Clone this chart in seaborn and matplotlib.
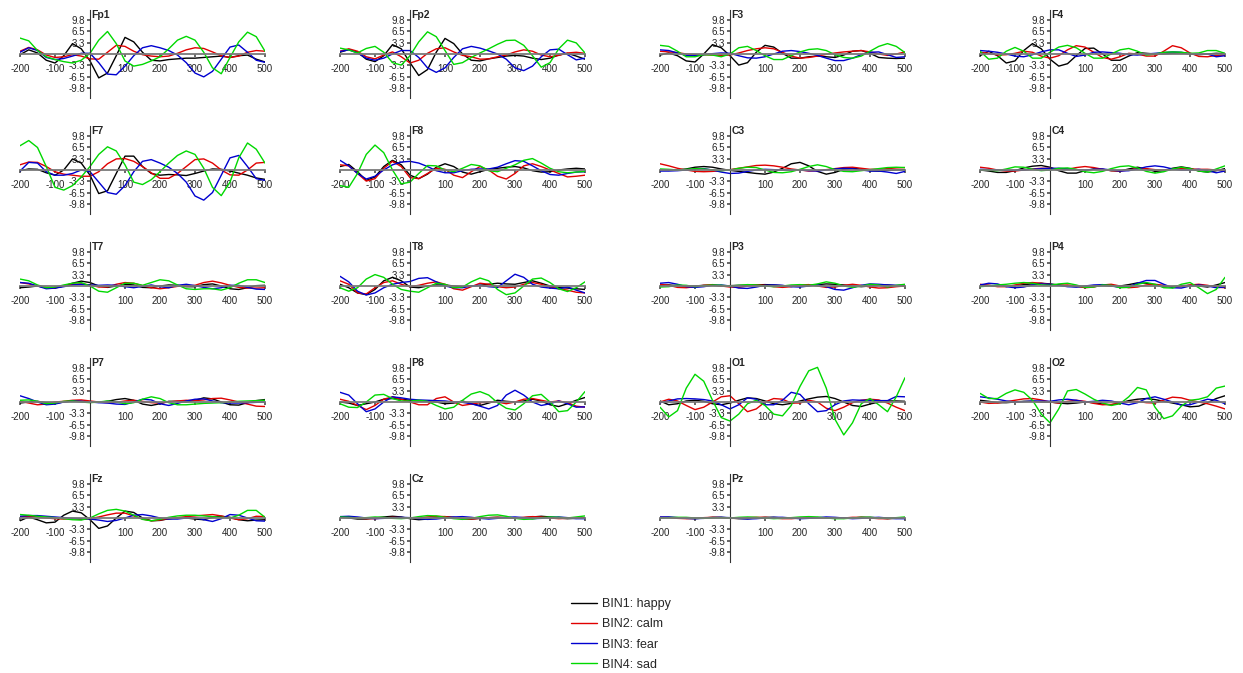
import numpy as np
import pandas as pd
import matplotlib
matplotlib.use("Agg")
import matplotlib.pyplot as plt
import seaborn as sns
from matplotlib.lines import Line2D

# time axis (ms) and bins
times = list(range(-200, 501, 25))
bins = ["BIN1: happy", "BIN2: calm", "BIN3: fear", "BIN4: sad"]
colors = ["#000000", "#e00000", "#0000d0", "#00d800"]
xticks = [-200, -100, 100, 200, 300, 400, 500]
yticks = [9.8, 6.5, 3.3, -3.3, -6.5, -9.8]

# amplitudes (uV) per channel: [happy, calm, fear, sad]
fp1 = [[-0.2, 1.2, 0.3, -1.8, -2.6, -0.5, 3.0, 1.5, -2.0, -6.9, -5.5, -0.5, 4.8, 3.5, 0.5, -1.8, -2.0, -1.6, -1.4, -1.2, -1.2, -1.0, -0.8, -0.6, -1.0, -0.5, -0.3, -1.5, -2.3],
       [0.8, 1.9, 1.2, -0.3, -1.0, -0.8, -0.2, -0.6, -1.4, -1.5, 0.5, 2.5, 2.2, 0.8, -0.2, -0.6, -0.8, -0.6, 0.2, 1.2, 1.8, 1.6, 0.6, -0.5, -1.0, -0.6, 0.5, 1.0, 0.8],
       [0.5, 1.8, 1.0, -1.0, -1.6, -1.3, -0.6, 0.2, 0.2, -2.5, -5.8, -6.0, -3.5, -0.5, 1.8, 2.4, 1.8, 1.0, -0.3, -2.5, -5.5, -6.6, -5.0, -1.5, 2.0, 2.6, 0.5, -1.8, -2.4],
       [4.6, 3.8, 1.0, -0.8, -1.6, -2.2, -2.6, -1.8, 0.2, 4.0, 6.5, 3.0, -2.0, -3.5, -3.0, -2.0, -0.8, 1.5, 4.0, 5.1, 4.0, 0.5, -4.0, -5.7, -1.0, 3.5, 6.3, 5.0, 0.8]]
fp2 = [[0.5, 1.3, 0.5, -1.5, -2.2, -0.5, 2.7, 1.5, -2.5, -6.2, -4.5, 0.5, 4.5, 3.0, 0.0, -1.8, -2.0, -1.4, -1.0, -0.6, -0.4, -0.6, -1.2, -1.6, -1.2, -0.3, 0.2, -0.6, -1.5],
       [0.8, 1.5, 0.8, -0.8, -1.4, -0.3, 0.6, -0.8, -2.6, -1.8, 0.2, 1.5, 1.8, 0.6, -0.4, -0.8, -1.5, -1.4, -0.8, -0.3, 0.6, 1.2, 0.8, -0.3, -0.8, -0.4, 0.3, 0.5, 0.2],
       [0.7, 1.2, 0.3, -1.2, -1.8, -1.2, 0.0, 1.0, 1.0, -1.0, -4.0, -5.3, -4.0, -1.0, 1.5, 2.2, 1.7, 0.9, 0.0, -1.5, -4.0, -4.8, -3.5, -0.8, 1.2, 1.4, -0.2, -1.7, -1.2],
       [1.7, 1.2, 0.3, 1.6, 2.2, 0.5, -2.5, -3.2, -0.5, 3.5, 6.4, 5.0, 1.0, -3.0, -2.5, -1.0, 0.3, 1.5, 2.8, 3.9, 4.0, 2.5, -0.5, -3.8, -2.5, 1.5, 4.0, 3.2, 0.3]]
f3 = [[-0.3, 0.3, -0.5, -2.0, -2.3, 0.0, 2.7, 1.8, -0.5, -3.2, -2.5, 0.5, 2.5, 2.0, 0.2, -1.2, -1.2, -0.8, -0.6, -0.8, -1.0, -0.3, 0.8, 1.0, 0.2, -1.0, -1.2, -1.3, -1.2],
      [0.8, 0.6, 0.4, 0.0, -0.2, -0.2, -0.3, -0.4, -0.3, 0.3, 1.0, 1.5, 1.8, 1.5, 0.5, -0.6, -1.2, -1.0, -0.6, -0.1, 0.3, 0.6, 0.8, 1.0, 0.6, 0.0, -0.4, 0.0, 0.6],
      [1.2, 1.0, 0.3, -0.4, -0.5, -0.2, 0.1, 0.3, 0.2, -0.5, -1.1, -1.2, -0.8, 0.0, 0.8, 1.0, 0.7, 0.2, -0.4, -1.2, -1.9, -1.9, -1.2, -0.2, 0.5, 0.6, -0.2, -1.0, -0.8],
      [2.5, 2.2, 0.8, -0.8, -0.8, -0.2, -0.3, -0.8, 0.0, 1.8, 2.2, 1.0, -0.5, -1.6, -1.6, -0.5, 0.6, 1.3, 1.5, 1.0, -0.2, -1.0, -1.2, -0.6, 0.8, 2.2, 3.0, 2.2, 0.4]]
f4 = [[-0.5, 0.8, -0.5, -2.6, -2.0, 1.0, 3.0, 1.5, -1.5, -3.5, -2.8, -0.5, 1.6, 1.7, 0.0, -1.8, -1.8, -0.6, 0.4, 0.2, 0.0, 0.0, 0.2, 0.3, 0.0, -0.2, 0.0, 0.2, 0.1],
      [0.5, 0.2, -0.3, -0.2, 0.2, 0.8, 0.5, -0.6, -1.2, -0.5, 1.2, 2.4, 2.0, 0.5, -1.0, -1.5, -0.8, 0.2, 0.0, -0.6, -0.6, 0.8, 2.4, 1.8, 0.3, -0.7, -0.8, -0.4, -0.3],
      [1.0, 0.8, 0.5, 0.0, -0.6, -0.8, -0.2, 0.6, 1.2, 1.2, 0.2, -0.7, -0.3, 0.5, 0.6, 0.4, 0.2, -0.2, -0.3, 0.0, 0.2, 0.4, 0.6, 0.5, 0.1, -0.1, 0.0, -0.8, -0.5],
      [0.8, -1.5, -1.2, 0.8, 1.9, 0.8, -1.2, -1.2, 0.5, 2.0, 2.5, 1.8, 0.2, -1.2, -1.2, 0.0, 1.2, 1.6, 0.8, -0.3, 0.0, 0.5, 0.6, 0.5, 0.2, 0.3, 1.0, 1.0, 0.2]]
f7 = [[-0.2, 0.3, 0.2, -0.8, -1.5, 0.0, 3.2, 2.0, -1.5, -6.8, -6.0, -1.0, 4.0, 4.0, 1.0, -1.0, -1.5, -1.3, -1.4, -1.6, -1.0, -0.3, 0.3, 0.2, -0.3, -0.9, -1.5, -2.3, -2.7],
      [1.5, 2.3, 2.2, 1.0, -0.5, -1.2, -1.5, -1.8, -1.8, -0.5, 1.8, 3.2, 3.3, 2.5, 1.0, -0.8, -2.4, -2.4, -1.0, 1.0, 3.0, 3.2, 2.0, 0.0, -1.4, -1.5, 0.0, 2.0, 2.2],
      [-0.3, 2.2, 2.0, -0.5, -1.5, -1.5, -1.0, 0.0, -0.5, -3.5, -6.5, -7.0, -4.5, -0.5, 2.5, 3.0, 2.0, 0.8, -1.0, -3.5, -7.5, -8.7, -6.5, -1.5, 3.5, 4.2, 1.0, -2.5, -3.0],
      [7.0, 8.5, 6.5, 1.0, -5.0, -5.8, -4.5, -2.0, 1.0, 4.5, 6.7, 5.5, 1.5, -3.5, -4.2, -2.8, -0.5, 2.0, 4.2, 5.5, 4.5, 0.5, -5.0, -7.4, -3.5, 3.5, 7.8, 6.0, 2.0]]
f8 = [[1.0, 1.6, -0.5, -3.0, -2.0, 1.0, 2.8, 1.5, -1.5, -2.5, -1.2, 0.8, 1.8, 1.0, -0.6, -1.2, -0.5, 0.2, 0.5, 0.8, 1.0, 0.6, -0.2, -0.6, -0.5, 0.0, 0.3, 0.5, 0.3],
      [1.5, 1.2, -1.0, -3.2, -2.5, 0.5, 2.5, 1.0, -2.2, -2.5, -1.0, 0.5, 0.2, -1.5, -2.2, -0.5, 1.0, 0.0, -1.8, -2.6, -1.0, 1.2, 1.8, 1.0, 0.0, -1.0, -2.0, -1.8, -1.5],
      [2.8, 1.2, -1.0, -2.6, -1.8, 0.0, 1.5, 2.3, 2.5, 2.0, 1.0, -0.2, -0.8, -0.8, -0.2, 0.2, 0.3, 0.3, 0.8, 1.8, 2.7, 2.5, 1.2, -0.2, -1.3, -1.5, -1.0, -0.6, -0.5],
      [-4.5, -5.0, -1.0, 4.5, 7.2, 5.0, 0.0, -4.0, -3.5, -1.0, 1.3, 1.2, 0.0, -0.5, 0.5, 1.6, 1.2, -0.2, -0.5, 0.5, 1.5, 2.8, 3.3, 2.0, 0.5, -0.5, -0.8, -0.6, -0.4]]
c3 = [[0.0, -0.1, 0.0, 0.3, 0.8, 1.0, 0.8, 0.3, -0.1, -0.4, -0.7, -1.0, -1.2, -0.6, 0.5, 1.8, 2.2, 1.2, -0.4, -1.2, -0.7, 0.2, 0.5, 0.2, -0.2, -0.3, -0.1, 0.0, 0.1],
      [1.8, 1.2, 0.5, 0.0, -0.4, -0.5, -0.4, -0.2, 0.1, 0.5, 0.9, 1.3, 1.4, 1.2, 0.8, 0.3, 0.0, -0.3, -0.2, 0.1, 0.4, 0.7, 0.8, 0.5, 0.2, 0.2, 0.4, 0.6, 0.7],
      [-0.3, -0.3, -0.2, 0.0, 0.2, 0.4, 0.0, -0.6, -1.0, -0.9, -0.4, 0.0, 0.2, 0.1, 0.0, 0.0, 0.0, -0.2, -0.3, 0.0, 0.3, 0.5, 0.4, 0.0, -0.3, -0.3, -0.6, -1.0, -0.4],
      [0.3, 0.2, 0.0, 0.2, 0.4, 0.3, 0.0, -0.2, 0.0, 0.5, 0.8, 0.7, 0.0, -0.7, -0.8, -0.5, 0.2, 1.0, 1.5, 1.0, 0.1, -0.4, -0.5, -0.2, 0.1, 0.4, 0.7, 0.8, 0.7]]
c4 = [[0.0, -0.3, -0.7, -0.7, -0.2, 0.6, 1.1, 1.3, 0.8, -0.2, -0.9, -0.9, -0.2, 0.3, 0.2, -0.2, -0.3, 0.3, 0.8, 0.3, -0.4, -0.2, 0.5, 0.9, 0.5, -0.3, -0.6, -0.2, 0.4],
      [0.8, 0.5, 0.0, -0.3, -0.3, 0.0, 0.3, 0.5, 0.5, 0.3, 0.2, 0.7, 1.0, 0.7, 0.2, -0.2, -0.3, 0.0, 0.4, 0.4, 0.1, 0.0, 0.2, 0.4, 0.3, 0.2, 0.2, 0.0, -0.3],
      [0.2, 0.1, 0.0, -0.1, -0.1, 0.0, 0.2, 0.4, 0.5, 0.5, 0.3, 0.1, 0.0, 0.2, 0.3, 0.0, -0.3, -0.2, 0.3, 0.9, 1.2, 0.9, 0.3, 0.0, 0.0, 0.2, -0.2, -0.8, -0.3],
      [0.0, -0.1, -0.2, 0.3, 0.9, 0.8, 0.2, -0.2, 0.0, 0.5, 0.6, 0.2, -0.5, -0.8, -0.4, 0.4, 1.0, 1.2, 0.6, -0.4, -0.9, -0.5, 0.3, 0.8, 0.4, -0.3, -0.6, 0.3, 1.2]]
t7 = [[-0.5, -0.3, 0.0, -0.5, -0.6, 0.0, 0.8, 1.4, 1.0, 0.0, -0.4, 0.0, 0.5, 0.3, -0.4, -0.5, 0.0, 0.3, 0.2, -0.2, -0.2, 0.4, 0.6, 0.0, -0.8, -1.0, -0.5, 0.1, 0.2],
      [1.0, 0.6, 0.0, -0.4, -0.5, 0.0, 0.5, 0.6, 0.3, -0.3, -0.3, 0.5, 1.0, 0.8, 0.1, -0.5, -0.8, -0.5, -0.1, 0.0, 0.2, 1.0, 1.4, 0.9, 0.2, -0.4, -0.6, -0.6, -0.5],
      [1.0, 0.8, 0.0, -0.8, -0.6, -0.2, 0.3, 0.5, 0.3, 0.2, 0.3, 0.2, -0.2, -0.5, -0.1, 0.3, -0.2, -0.5, 0.2, 0.5, 0.1, -0.4, -0.8, -0.5, 0.2, 0.2, -0.4, -0.9, -1.0],
      [2.0, 1.5, 0.3, -0.5, -0.3, 0.3, 0.8, 1.0, 0.0, -1.5, -1.8, -0.5, 0.8, 0.8, 0.2, 1.0, 1.8, 1.5, 0.3, -0.8, -1.0, -0.8, -0.8, -1.2, -0.5, 0.8, 1.8, 1.8, 1.0]]
t8 = [[0.5, -0.5, -2.0, -2.5, -1.0, 1.5, 2.5, 1.5, -0.3, -0.5, 0.0, 0.3, 0.3, 0.0, -0.2, 0.0, 0.2, 0.5, 0.8, 0.6, 0.5, 1.0, 1.5, 0.8, 0.0, -0.4, -0.6, -0.8, -1.0],
      [1.5, 0.5, -2.0, -2.3, -0.5, 1.0, 1.5, 0.5, -0.2, 0.2, 0.8, 1.2, 0.5, -0.8, -1.2, -0.2, 0.8, 0.5, -0.2, -0.5, -0.3, 0.5, 1.0, 0.5, -0.3, -0.8, -1.2, -1.8, -2.0],
      [2.8, 1.2, -1.5, -2.6, -2.0, -0.5, 0.5, 1.0, 1.3, 2.2, 2.4, 1.2, 0.0, -0.5, -0.5, 0.0, 0.2, -0.2, -0.4, 1.5, 3.4, 2.5, 0.5, -0.3, -0.6, -0.8, -0.3, -1.2, -2.0],
      [-0.5, -1.5, -0.5, 2.0, 3.3, 2.5, 0.5, -1.0, -1.5, -1.8, -0.5, 0.8, 0.5, -0.5, -0.3, 1.2, 2.3, 1.5, -1.0, -2.5, -2.0, 0.0, 2.0, 2.3, 1.0, -0.8, -1.6, -0.5, 1.2]]
p3 = [[0.2, 0.3, 0.1, -0.1, 0.0, 0.2, 0.2, 0.0, 0.1, 0.2, 0.2, 0.3, 0.4, 0.3, 0.1, 0.0, -0.1, 0.1, 0.4, 0.6, 0.5, 0.3, 0.0, -0.2, 0.0, 0.2, 0.3, 0.1, 0.0],
      [0.5, 0.2, -0.4, -0.5, -0.2, 0.2, 0.4, 0.0, -0.3, -0.4, 0.0, 0.3, 0.2, -0.2, -0.4, -0.2, 0.3, 0.4, 0.0, -0.4, -0.3, 0.2, 0.5, 0.2, -0.3, -0.6, -0.5, -0.2, 0.0],
      [0.8, 1.0, 0.5, -0.2, -0.4, -0.2, 0.2, 0.3, 0.0, -0.6, -0.7, -0.3, 0.2, 0.3, 0.2, -0.2, -0.3, 0.0, 0.4, -0.2, -1.0, -1.2, -0.5, 0.2, 0.6, 0.5, 0.3, 0.2, 0.3],
      [-0.3, -0.2, 0.3, 0.2, -0.2, 0.1, 0.3, 0.2, 0.0, 0.2, 0.4, 0.3, 0.0, -0.2, 0.0, 0.3, 0.4, 0.2, 0.6, 1.2, 0.8, 0.0, -0.4, 0.0, 0.5, 0.3, -0.3, 0.2, 0.5]]
p4 = [[0.2, 0.2, 0.0, -0.1, 0.1, 0.4, 0.6, 0.8, 0.6, 0.3, 0.0, -0.2, -0.2, 0.0, 0.1, 0.0, 0.0, 0.4, 0.9, 0.8, 0.3, -0.2, -0.2, 0.1, 0.2, 0.0, -0.3, 0.3, 1.0],
      [0.5, 0.2, -0.2, -0.2, 0.3, 0.8, 1.0, 0.8, 0.4, 0.2, 0.3, 0.0, -0.5, -0.3, 0.3, 0.5, 0.0, -0.5, -0.3, 0.3, 0.5, 0.2, -0.3, -0.2, 0.3, 0.5, 0.2, -0.3, -0.5],
      [0.3, 0.8, 0.6, -0.2, -0.5, -0.3, 0.3, 0.6, 0.5, 0.2, -0.2, -0.3, 0.0, 0.3, 0.4, 0.0, -0.4, -0.2, 0.8, 1.6, 1.6, 0.5, -0.5, -0.6, 0.0, 0.3, 0.0, -0.5, -0.3],
      [-0.2, 0.0, 0.3, 0.5, 0.8, 1.0, 0.8, 0.3, 0.2, 0.6, 0.8, 0.3, -0.4, -0.3, 0.3, 0.2, -0.5, -0.4, 0.5, 1.0, 0.5, -0.5, -0.6, 0.5, 1.0, -0.5, -2.2, -1.0, 2.5]]
p7 = [[-0.3, 0.0, 0.2, -0.2, -0.4, 0.0, 0.3, 0.2, 0.0, -0.1, 0.2, 0.7, 1.0, 0.5, -0.6, -1.0, -0.5, 0.2, 0.2, 0.0, 0.5, 1.2, 0.9, 0.0, -0.8, -0.9, -0.2, 0.4, 0.7],
      [0.2, -0.3, -0.8, -0.6, 0.0, 0.2, 0.5, 0.6, 0.3, 0.0, -0.2, -0.1, 0.3, 0.5, 0.2, -0.2, -0.3, 0.0, 0.3, 0.5, 0.4, 0.6, 1.0, 1.1, 0.6, 0.0, -0.6, -1.2, -1.3],
      [1.8, 1.0, 0.0, -0.8, -0.6, 0.0, 0.3, 0.2, 0.0, -0.2, -0.3, -0.6, -0.7, 0.0, 0.8, 0.6, -0.5, -1.0, -0.4, 0.3, 0.8, 0.9, 0.3, -0.2, -0.3, -0.3, -0.2, -0.1, 0.0],
      [0.5, 0.6, 0.2, -0.5, -0.3, 0.2, 0.3, 0.0, -0.2, 0.0, 0.3, 0.0, -0.5, -0.2, 0.8, 1.5, 1.0, -0.2, -0.8, -0.8, -0.6, -0.4, -0.3, -0.2, 0.0, 0.2, 0.3, 0.4, 0.5]]
p8 = [[0.0, -0.3, -1.0, -0.5, 0.0, 0.8, 1.0, 0.8, 0.5, 0.3, 0.3, 0.0, -0.5, -0.3, 0.3, -0.5, -1.0, -0.3, 0.5, 0.2, 0.0, 0.3, 0.8, 0.3, -0.8, -1.3, -0.5, 0.5, 1.3],
      [0.8, 0.2, -1.0, -2.2, -1.0, 0.8, 1.5, 0.8, 0.0, -0.8, -0.8, 1.0, 1.5, 0.0, -1.0, -0.6, -0.2, 0.0, 0.0, -0.5, 0.0, 0.8, 1.0, 0.5, 0.0, 0.3, -0.2, -1.2, -1.5],
      [2.8, 2.0, -0.5, -2.8, -2.0, 0.0, 1.5, 1.2, 0.8, 0.6, 0.5, 0.4, 0.3, 0.0, -0.1, -0.5, -1.2, -2.0, -1.0, 2.0, 3.4, 2.0, 0.0, -1.0, -0.5, 0.3, -0.5, -1.5, -1.4],
      [-0.5, -1.5, -1.6, 0.0, 2.0, 2.2, 1.0, 0.3, 0.3, 0.5, 0.2, -1.0, -2.0, -1.5, 0.5, 2.3, 3.0, 2.0, -0.2, -1.8, -2.3, -0.5, 1.8, 2.2, 0.0, -2.8, -2.5, 0.0, 3.0]]
o1 = [[0.3, -0.8, -0.5, 0.3, 0.5, 0.2, -0.5, -0.8, -0.3, 0.5, 1.2, 1.0, 0.3, -0.5, -0.8, -0.4, 0.3, 0.9, 1.4, 1.6, 1.0, 0.0, -1.0, -1.3, -0.6, 0.0, 0.3, 0.3, 0.2],
      [0.0, 0.8, 0.3, -1.0, -2.2, -1.5, 0.0, 1.5, 1.8, -0.5, -2.8, -2.0, 0.0, 1.0, 0.8, -0.3, -0.3, 0.5, 0.0, -1.8, -2.5, -1.5, -0.2, 0.5, 0.8, 0.6, -0.3, -1.5, -2.5],
      [-0.2, 0.3, 0.9, 1.0, 0.9, 0.7, 0.3, -0.8, -2.0, -0.8, 1.2, 0.8, -0.8, -0.8, 0.5, 2.8, 2.2, -0.5, -2.8, -2.5, -0.8, 0.3, 0.6, 0.5, 0.5, 0.4, 0.4, 1.6, 1.5],
      [-1.5, -4.3, -2.5, 4.0, 8.0, 6.0, 0.5, -4.5, -5.5, -3.5, -0.5, 0.5, -1.0, -3.5, -4.0, -1.0, 4.5, 9.0, 10.0, 4.0, -5.0, -9.5, -6.0, -0.5, 1.0, -0.8, -2.8, 1.5, 7.0]]
o2 = [[0.5, 0.2, -0.2, -0.2, 0.0, 0.2, 0.2, 0.0, 0.0, -0.3, -0.5, -0.3, 0.0, -0.2, -0.6, -0.8, -0.3, 0.4, 0.8, 1.0, 0.7, 0.2, -0.3, -0.8, -1.4, -1.2, -0.2, 1.0, 1.8],
      [0.0, -0.4, -0.3, 0.1, 0.5, 0.9, 1.0, 0.6, 0.0, -0.3, 0.2, 0.5, 0.2, -0.4, -0.8, -0.7, -0.4, 0.0, 0.2, -0.2, -0.3, 0.6, 1.4, 1.2, 0.5, 0.0, -0.5, -1.2, -2.0],
      [1.5, 1.2, 0.8, 0.3, 0.0, 0.1, 0.3, 0.3, 0.2, 0.6, 0.8, 0.5, 0.0, 0.2, 0.5, 0.3, -0.3, -0.8, -0.2, 1.0, 1.5, 0.8, 0.0, -0.9, -0.8, 0.0, 0.8, 0.5, -0.5],
      [2.5, 1.0, 1.0, 2.5, 3.5, 2.8, 0.5, -3.5, -6.0, -2.0, 3.2, 3.6, 2.3, 0.8, -0.3, -1.0, -0.5, 1.5, 4.2, 3.5, -1.5, -4.8, -4.0, -1.2, 0.5, 0.8, 1.5, 4.0, 4.6]]
fz = [[-0.8, 0.3, -0.5, -1.4, -1.2, 0.8, 2.0, 1.5, -0.5, -3.0, -2.3, 0.0, 2.0, 1.6, 0.0, -0.8, -0.7, -0.2, 0.0, 0.0, -0.3, -0.5, 0.2, 0.5, 0.2, -0.5, -0.8, -0.6, -0.5],
      [0.3, 0.5, 0.3, 0.0, -0.2, -0.3, -0.2, -0.4, -0.2, 0.3, 0.9, 1.4, 1.4, 0.6, -0.3, -0.8, -0.6, -0.2, 0.1, 0.4, 0.6, 0.8, 1.0, 0.6, 0.0, -0.5, -0.2, 0.5, 0.4],
      [0.5, 0.7, 0.7, 0.5, 0.3, 0.1, -0.1, -0.2, -0.3, -0.6, -1.0, -0.7, 0.0, 0.8, 1.0, 0.6, 0.0, -0.3, -0.3, 0.0, 0.1, -0.5, -1.0, -0.2, 1.0, 0.8, 0.0, -0.8, -0.9],
      [1.0, 0.8, 0.5, 0.3, 0.1, -0.2, -0.5, -0.6, 0.0, 1.2, 2.2, 2.5, 2.0, 0.8, -0.4, -0.8, -0.4, 0.2, 0.6, 0.8, 0.8, 0.6, 0.4, 0.2, 0.0, 0.8, 2.2, 2.2, 0.2]]
cz = [[0.2, 0.0, -0.3, -0.3, 0.0, 0.3, 0.5, 0.3, -0.2, -0.5, -0.3, 0.2, 0.4, 0.2, -0.2, -0.3, -0.1, 0.1, 0.2, 0.1, 0.0, 0.1, 0.3, 0.5, 0.3, 0.0, -0.2, -0.1, 0.1],
      [0.3, 0.2, 0.0, -0.2, -0.2, 0.0, 0.2, 0.1, -0.1, 0.0, 0.3, 0.5, 0.4, 0.1, -0.2, -0.3, -0.1, 0.1, 0.2, 0.1, 0.0, 0.2, 0.4, 0.3, 0.0, -0.2, -0.1, 0.1, 0.0],
      [0.4, 0.5, 0.3, 0.0, -0.2, -0.1, 0.1, 0.2, 0.1, -0.2, -0.4, -0.3, 0.0, 0.3, 0.4, 0.2, -0.1, -0.3, -0.1, 0.2, 0.3, 0.1, -0.2, -0.1, 0.2, 0.3, 0.1, -0.2, -0.2],
      [0.3, 0.2, 0.0, 0.1, 0.3, 0.2, -0.1, -0.2, 0.0, 0.4, 0.7, 0.6, 0.2, -0.2, -0.4, -0.1, 0.4, 0.8, 0.9, 0.5, -0.1, -0.4, -0.3, 0.1, 0.3, 0.2, 0.0, 0.3, 0.6]]
pz = [[0.1, 0.2, 0.1, -0.1, -0.2, 0.0, 0.2, 0.2, 0.0, -0.2, -0.2, 0.0, 0.2, 0.2, 0.0, -0.1, -0.1, 0.0, 0.1, 0.1, 0.0, -0.1, 0.0, 0.2, 0.2, 0.0, -0.2, -0.1, 0.1],
      [0.2, 0.1, -0.1, -0.2, -0.1, 0.1, 0.2, 0.1, -0.1, -0.1, 0.1, 0.2, 0.2, 0.0, -0.2, -0.2, 0.0, 0.1, 0.1, 0.0, -0.1, 0.0, 0.2, 0.2, 0.0, -0.2, -0.2, 0.0, 0.1],
      [0.3, 0.3, 0.1, -0.1, -0.2, -0.1, 0.1, 0.2, 0.1, -0.1, -0.3, -0.2, 0.0, 0.2, 0.2, 0.0, -0.2, -0.1, 0.1, 0.3, 0.2, 0.0, -0.2, -0.1, 0.1, 0.2, 0.0, -0.2, -0.2],
      [0.0, 0.1, 0.2, 0.2, 0.0, -0.1, 0.0, 0.1, 0.0, 0.2, 0.3, 0.2, 0.0, -0.2, -0.1, 0.1, 0.3, 0.4, 0.3, 0.0, -0.2, -0.2, 0.0, 0.2, 0.2, 0.0, -0.1, 0.1, 0.3]]

channels = [("Fp1", fp1), ("Fp2", fp2), ("F3", f3), ("F4", f4),
            ("F7", f7), ("F8", f8), ("C3", c3), ("C4", c4),
            ("T7", t7), ("T8", t8), ("P3", p3), ("P4", p4),
            ("P7", p7), ("P8", p8), ("O1", o1), ("O2", o2),
            ("Fz", fz), ("Cz", cz), ("Pz", pz)]

sns.set_theme(style="white")
plt.rcParams["font.family"] = ["Liberation Sans", "DejaVu Sans"]
plt.rcParams["axes.unicode_minus"] = False

W, H = 1243, 673
fig = plt.figure(figsize=(W / 100, H / 100), dpi=100)
palette = dict(zip(bins, colors))

for i, (name, waves) in enumerate(channels):
    row, col = divmod(i, 4)
    x0 = 20 + 320 * col      # pixel of -200 ms
    y0 = 54 + 116 * row      # pixel of 0 uV
    ax = fig.add_axes([x0 / W, 1 - (y0 + 44) / H, 245 / W, 88 / H])
    df = pd.DataFrame({"time": times * 4,
                       "amp": sum(waves, []),
                       "bin": np.repeat(bins, len(times))})
    sns.lineplot(data=df, x="time", y="amp", hue="bin", palette=palette,
                 linewidth=1.0, legend=False, errorbar=None, ax=ax)
    ax.set_xlim(-200, 500)
    ax.set_ylim(-12.7, 12.7)
    ax.set_xlabel("")
    ax.set_ylabel("")
    ax.set_facecolor("none")
    for s in ["top", "right"]:
        ax.spines[s].set_visible(False)
    ax.spines["left"].set_position(("data", 0))
    ax.spines["bottom"].set_position(("data", 0))
    ax.spines["bottom"].set_color("#7a7a7a")
    ax.spines["bottom"].set_linewidth(1.3)
    ax.spines["left"].set_color("#333333")
    ax.spines["left"].set_linewidth(0.8)
    ax.set_xticks(xticks)
    ax.set_xticklabels([str(t) for t in xticks])
    ax.set_yticks(yticks)
    ax.set_yticklabels([f"{v:.1f}" for v in yticks])
    ax.tick_params(axis="x", length=2, pad=5.5, labelsize=7, bottom=True, color="#555555")
    ax.tick_params(axis="y", length=2, pad=1.5, labelsize=7, left=True, color="#555555")
    ax.text(4, 12.7, name, ha="left", va="top", fontsize=7.5, fontweight="bold")

handles = [Line2D([], [], color=c, lw=1.0) for c in colors]
fig.legend(handles, bins, loc="upper left", bbox_to_anchor=(571 / W, 1 - 598 / H),
           frameon=False, fontsize=9, handlelength=2.1, handletextpad=0.4,
           labelspacing=0.66, borderpad=0, borderaxespad=0)

fig.savefig("out.png", dpi=100)
